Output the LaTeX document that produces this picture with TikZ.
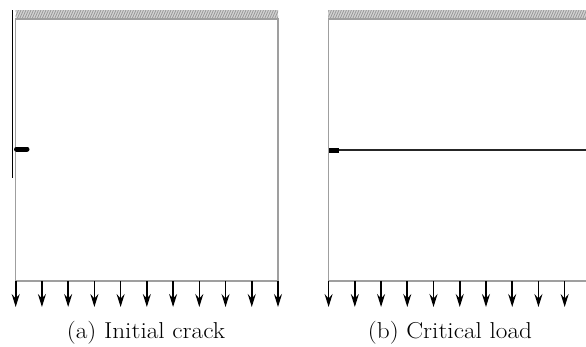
\documentclass[tikz,border=0pt]{standalone}
\usetikzlibrary{arrows.meta}
\begin{document}
\begin{tikzpicture}[x=1pt,y=-1pt,
  boxline/.style={draw=gray!75,line width=1.3pt},
  hatchfill/.style={fill=gray!35},
  hatchline/.style={draw=gray!80,line width=0.8pt},
  load/.style={black,line width=1.6pt,-{Stealth[length=13pt,width=8pt,inset=4.5pt]}},
  crackthick/.style={black,line width=5pt,line cap=round},
  crackthin/.style={black!85,line width=2.2pt},
  caption/.style={font=\fontsize{23}{27}\selectfont,anchor=base,inner sep=0pt}]
\useasboundingbox (0,0) rectangle (586,346);
\clip (0,0) rectangle (586,346);
% ---------- panel (a) ----------
\draw[black,line width=1.4pt] (12.5,10) -- (12.5,178);
\fill[hatchfill] (15.7,10) rectangle (278,19);
\begin{scope}
  \clip (15.7,10) rectangle (278,19);
  \foreach \i in {0,...,110} { \draw[hatchline] ({12+\i*2.5},19) -- ({12+\i*2.5+4},10); }
\end{scope}
\draw[boxline] (15.7,19) rectangle (278,281);
\draw[crackthick] (16.5,149) -- (27,149);
\foreach \i in {0,...,10} {
  \draw[load] ({15.7+\i*26.23},281) -- ({15.7+\i*26.23},307);
}
\node[caption] (capa) at (146,338) {\scalebox{1.1}[1]{(a) Initial crack}};
% ---------- panel (b) ----------
\fill[hatchfill] (328.3,10) rectangle (600,19);
\begin{scope}
  \clip (328.3,10) rectangle (600,19);
  \foreach \i in {0,...,115} { \draw[hatchline] ({325+\i*2.5},19) -- ({325+\i*2.5+4},10); }
\end{scope}
\draw[boxline] (328.3,19) -- (600,19);
\draw[boxline] (328.3,19) -- (328.3,281) -- (600,281);
\draw[crackthin] (335,150) -- (600,150);
\draw[black,line width=5pt] (329,150) -- (339,150);
\foreach \i in {0,...,10} {
  \draw[load] ({328.6+\i*26.23},281) -- ({328.6+\i*26.23},307);
}
\node[caption] (capb) at (450,338) {\scalebox{1.1}[1]{(b) Critical load}};
\end{tikzpicture}
\end{document}
